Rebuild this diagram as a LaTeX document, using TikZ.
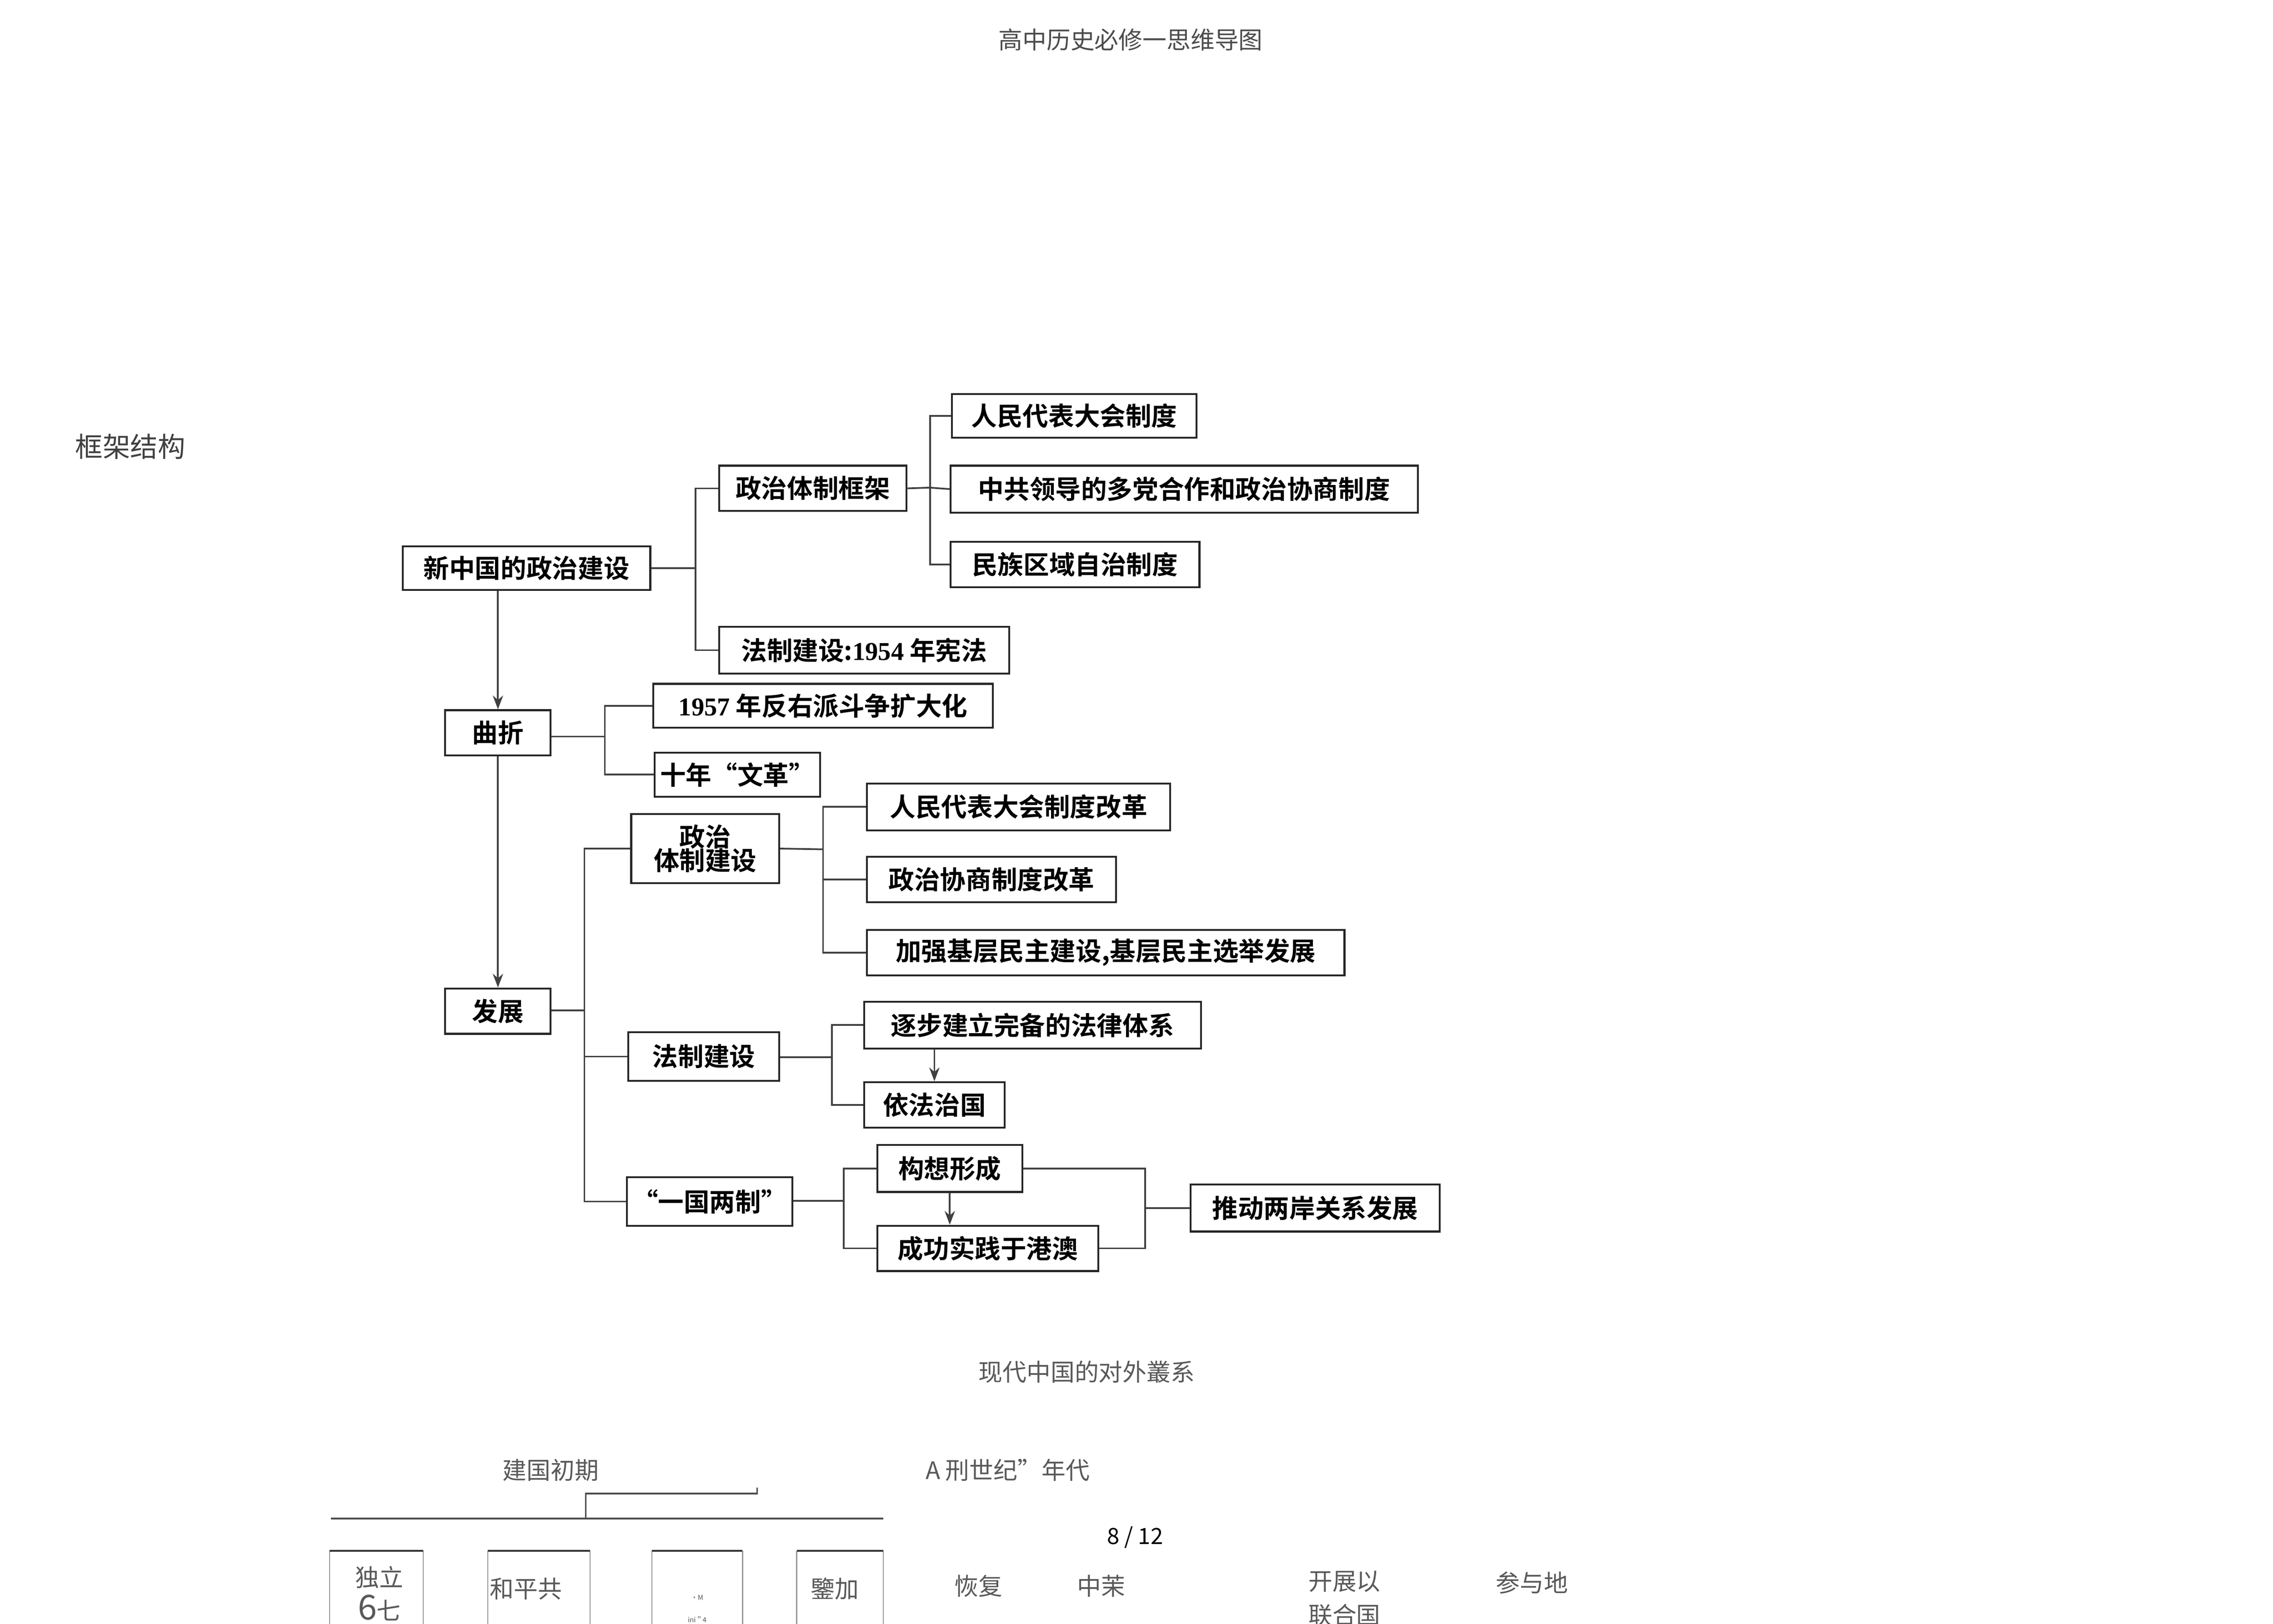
\documentclass[tikz,border=0pt]{standalone}
\usepackage{fontspec}
\usetikzlibrary{arrows.meta}
\setmainfont{Noto Sans CJK SC}[BoldFont={Noto Sans CJK SC Bold}]
\newfontfamily\lat{Liberation Serif}[BoldFont={Liberation Serif Bold}]
\begin{document}
\begin{tikzpicture}[x=0.03cm,y=-0.03cm,
  box/.style={draw=black!85,line width=1.1pt,inner sep=0pt,font=\bfseries\fontsize{15pt}{17pt}\selectfont,align=center},
  ln/.style={draw=black!75,line width=1pt},
  ar/.style={ln,-{Stealth[length=8pt,width=6pt]}},
  gr/.style={text=black!65,font=\fontsize{14pt}{16pt}\selectfont,inner sep=0pt}]
\newcommand\bx[6]{\node[box,minimum width={(#4-#2)*0.03cm},minimum height={(#5-#3)*0.03cm}] (#1) at ({(#2+#4)/2},{(#3+#5)/2}) {#6};}
\useasboundingbox (0,0) rectangle (1552,1109);
\fill[white] (0,0) rectangle (1552,1109);
\node[gr,text=black!70] (title) at (772,27) {高中历史必修一思维导图};
\node[gr,text=black!75,font=\fontsize{16pt}{18pt}\selectfont] (kj) at (89,305) {框架结构};

\bx{rd}{650}{269}{817}{299}{人民代表大会制度}
\bx{zg}{649}{318}{968}{350}{中共领导的多党合作和政治协商制度}
\bx{mz}{649}{370}{819}{401}{民族区域自治制度}
\bx{zt}{491}{318}{619}{349}{政治体制框架}
\bx{xz}{275}{373}{444}{403}{新中国的政治建设}
\bx{fz}{491}{428}{689}{460}{法制建设:{\lat\bfseries 1954} 年宪法}
\bx{qz}{304}{485}{376}{516}{曲折}
\bx{fy}{446}{467}{678}{497}{{\lat\bfseries 1957} 年反右派斗争扩大化}
\bx{wg}{447}{514}{560}{544}{十年“文革”}
\bx{zj}{431}{556}{532}{603}{政治\\[-3pt]体制建设}
\bx{rg}{592}{535}{799}{567}{人民代表大会制度改革}
\bx{zx}{592}{585}{762}{616}{政治协商制度改革}
\bx{jq}{592}{635}{918}{666}{加强基层民主建设,基层民主选举发展}
\bx{fa}{304}{675}{376}{706}{发展}
\bx{fj}{429}{705}{532}{738}{法制建设}
\bx{zb}{590}{684}{820}{716}{逐步建立完备的法律体系}
\bx{yf}{590}{739}{686}{770}{依法治国}
\bx{yg}{428}{804}{541}{837}{“一国两制”}
\bx{gx}{599}{782}{698}{814}{构想形成}
\bx{cg}{599}{837}{750}{868}{成功实践于港澳}
\bx{td}{813}{809}{983}{841}{推动两岸关系发展}

\coordinate (b1) at (475,388);
\draw[ln] (xz.east) -- (b1); \draw[ln] (zt.west) -| (b1); \draw[ln] (fz.west) -| (b1);
\coordinate (b2) at (635,333);
\draw[ln] (zt.east) -- (b2); \draw[ln] (rd.west) -| (b2); \draw[ln] (zg.west) -- (b2); \draw[ln] (mz.west) -| (b2);
\draw[ar] (xz.south -| qz.north) -- (qz.north);
\draw[ar] (qz.south) -- (fa.north);
\coordinate (b3) at (413,503);
\draw[ln] (qz.east|-b3) -- (b3); \draw[ln] (fy.west) -| (b3); \draw[ln] (wg.west) -| (b3);
\coordinate (b4) at (399,690);
\draw[ln] (fa.east|-b4) -- (b4); \draw[ln] (zj.west) -| (b4); \draw[ln] (fj.west) -| (b4); \draw[ln] (yg.west) -| (b4);
\coordinate (b5) at (562,580);
\draw[ln] (zj.east) -- (b5); \draw[ln] (rg.west) -| (b5); \draw[ln] (zx.west) -| (b5); \draw[ln] (jq.west) -| (b5);
\coordinate (b6) at (568,722);
\draw[ln] (fj.east|-b6) -- (b6); \draw[ln] (zb.west) -| (b6); \draw[ln] (yf.west) -| (b6);
\draw[ar] (zb.south-|yf.north) -- (yf.north);
\coordinate (b7) at (576,820);
\draw[ln] (yg.east|-b7) -- (b7); \draw[ln] (gx.west) -| (b7); \draw[ln] (cg.west) -| (b7);
\draw[ar] (gx.south) -- (gx.south|-cg.north);
\coordinate (b8) at (782,825);
\draw[ln] (gx.east) -| (b8); \draw[ln] (cg.east) -| (b8); \draw[ln] (b8) -- (td.west);

\node[gr] (xd) at (742,937) {现代中国的对外叢系};
\node[gr] (jg) at (376,1004) {建国初期};
\node[gr] (sj) at (688,1004) {A\ 刑世纪”年代};
\coordinate (h1) at (226,1037); \coordinate (h2) at (603,1037);
\coordinate (v1) at (400,1037); \coordinate (v2) at (400,1020); \coordinate (v3) at (517,1020);
\draw[black!70,line width=1pt] (h1) -- (h2);
\draw[black!70,line width=0.9pt] (v1) -- (v2) -- (v3) -- ++(0,-4);
\foreach \a/\b in {225/289,333/403,445/507,544/603}{
  \draw[black!40,line width=0.6pt] (\a,1109) -- (\a,1059);
  \draw[black!40,line width=0.6pt] (\b,1109) -- (\b,1059);
  \draw[black!80,line width=1.1pt] (\a,1059) -- (\b,1059);}
\node[gr] (dl) at (259,1077) {独立};
\node[gr] (q7) at (259,1098) {{\fontsize{20pt}{20pt}\selectfont 6}七};
\node[gr] (hp) at (359,1085) {和平共};
\node[gr,font=\fontsize{4pt}{5pt}\selectfont] (m1) at (476,1091) {•M};
\node[gr,font=\fontsize{4pt}{5pt}\selectfont] (m2) at (476,1106) {ini＂4};
\node[gr] (jj) at (570,1085) {鑒加};
\node[inner sep=0pt,font=\fontsize{13pt}{15pt}\selectfont] (pg) at (775,1050) {8 / 12};
\node[gr] (hf) at (668,1083) {恢复};
\node[gr] (zm) at (752,1083) {中茉};
\node[gr] (kz) at (918,1080) {开展以};
\node[gr] (lh) at (918,1103) {联合国};
\node[gr] (cy) at (1046,1081) {参与地};
\end{tikzpicture}
\end{document}
